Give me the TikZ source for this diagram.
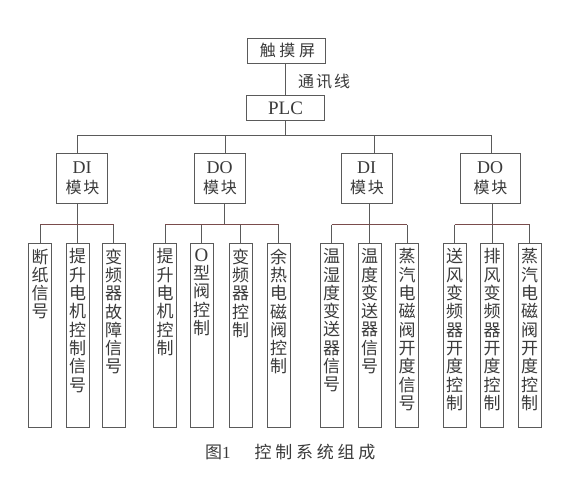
\documentclass[tikz,border=0pt]{standalone}
\usepackage{fontspec}
\setmainfont{Liberation Serif}
\newfontfamily\cjk[LetterSpace=12]{Noto Sans CJK SC}
\newfontfamily\cjkn{Noto Sans CJK SC}
\newfontfamily\cjkw[LetterSpace=22]{Noto Sans CJK SC}
\definecolor{ln}{HTML}{5A5A5A}
\definecolor{tx}{HTML}{3A3A3A}
\definecolor{rb}{HTML}{7A4C4C}
\newcommand{\leafnode}[3]{%
  \node[leaf] (#1) at (#2,243) {};
  \node[leaftext] (#1t) at ([yshift=-5.5pt]#1.north) {#3};
}
\begin{document}
\begin{tikzpicture}[x=1pt,y=-1pt,
  box/.style={draw=ln, line width=0.9pt, inner sep=0pt, text=tx},
  topbox/.style={box, minimum width=78pt, minimum height=25pt},
  modbox/.style={box, minimum width=51pt, minimum height=50pt, align=center,
    font=\fontsize{18}{20}\selectfont},
  leaf/.style={box, minimum width=23pt, minimum height=184pt, anchor=north},
  leaftext/.style={anchor=north, align=center, inner sep=0pt, text=tx,
    font=\cjkn\fontsize{17}{18.3}\selectfont},
  wire/.style={draw=ln, line width=0.8pt},
  rwire/.style={draw=rb, line width=0.8pt},
  lbl/.style={inner sep=0pt, text=tx}
]
\useasboundingbox (0,0) rectangle (564,476);

% top level
\node[topbox, font=\cjkw\fontsize{16}{18}\selectfont] (touch) at (286,50.5) {\hspace{3pt}触摸屏};
\node[topbox, font=\fontsize{19}{20}\selectfont] (plc) at (285.5,108) {PLC};
\node[lbl, anchor=west, font=\cjk\fontsize{16}{18}\selectfont] (comm) at (298,82) {通讯线};
\draw[wire] (touch.south -| plc) -- (plc.north);

% modules
\node[modbox] (m1) at (82,178) {DI\\{\cjk\fontsize{16}{20}\selectfont\hspace{1pt}模块}};
\node[modbox] (m2) at (219.5,178) {DO\\{\cjk\fontsize{16}{20}\selectfont\hspace{1pt}模块}};
\node[modbox] (m3) at (366.5,178) {DI\\{\cjk\fontsize{16}{20}\selectfont\hspace{1pt}模块}};
\node[modbox, minimum width=60pt] (m4) at (490,178) {DO\\{\cjk\fontsize{16}{20}\selectfont\hspace{1pt}模块}};

% main bus
\coordinate (d1) at (77,135);
\coordinate (d2) at (225,135);
\coordinate (d3) at (374,135);
\coordinate (d4) at (491,135);
\draw[wire] (plc.south) -- (plc.south |- d1);
\draw[wire] (d1) -- (d4);
\draw[wire] (d1) -- (d1 |- m1.north);
\draw[wire] (d2) -- (d2 |- m2.north);
\draw[wire] (d3) -- (d3 |- m3.north);
\draw[wire] (d4) -- (d4 |- m4.north);

% leaves
\leafnode{a1}{40}{断\\纸\\信\\号}
\leafnode{a2}{77.5}{提\\升\\电\\机\\控\\制\\信\\号}
\leafnode{a3}{113.5}{变\\频\\器\\故\\障\\信\\号}
\leafnode{b1}{165}{提\\升\\电\\机\\控\\制}
\leafnode{b2}{201.5}{{\rmfamily\fontsize{19}{18.3}\selectfont O}\\型\\阀\\控\\制}
\leafnode{b3}{240.5}{变\\频\\器\\控\\制}
\leafnode{b4}{278.5}{余\\热\\电\\磁\\阀\\控\\制}
\leafnode{c1}{331.5}{温\\湿\\度\\变\\送\\器\\信\\号}
\leafnode{c2}{369.5}{温\\度\\变\\送\\器\\信\\号}
\leafnode{c3}{407}{蒸\\汽\\电\\磁\\阀\\开\\度\\信\\号}
\leafnode{e1}{454.5}{送\\风\\变\\频\\器\\开\\度\\控\\制}
\leafnode{e2}{492}{排\\风\\变\\频\\器\\开\\度\\控\\制}
\leafnode{e3}{529.5}{蒸\\汽\\电\\磁\\阀\\开\\度\\控\\制}

% child buses
\coordinate (ba) at (0,224.5);
\draw[wire] (a2 |- m1.south) -- (a2 |- ba);
\draw[rwire] (a1 |- ba) -- (a3 |- ba);
\foreach \n in {a1,a2,a3} \draw[wire] (\n |- ba) -- (\n.north);

\coordinate (bb) at (224,224.5);
\draw[wire] (bb |- m2.south) -- (bb);
\draw[rwire] (b1 |- ba) -- (b4 |- ba);
\foreach \n in {b1,b2,b3,b4} \draw[wire] (\n |- ba) -- (\n.north);

\draw[wire] (c2 |- m3.south) -- (c2 |- ba);
\draw[rwire] (c1 |- ba) -- (c3 |- ba);
\foreach \n in {c1,c2,c3} \draw[wire] (\n |- ba) -- (\n.north);

\draw[wire] (e2 |- m4.south) -- (e2 |- ba);
\draw[rwire] (e1 |- ba) -- (e3 |- ba);
\foreach \n in {e1,e2,e3} \draw[wire] (\n |- ba) -- (\n.north);

% caption
\node[lbl, anchor=west, font=\fontsize{17}{18}\selectfont] (cap) at (205,452)
  {{\cjkn\fontsize{17}{18}\selectfont 图}1\hspace{24pt}{\cjkw 控制系统组成}};
\end{tikzpicture}
\end{document}
